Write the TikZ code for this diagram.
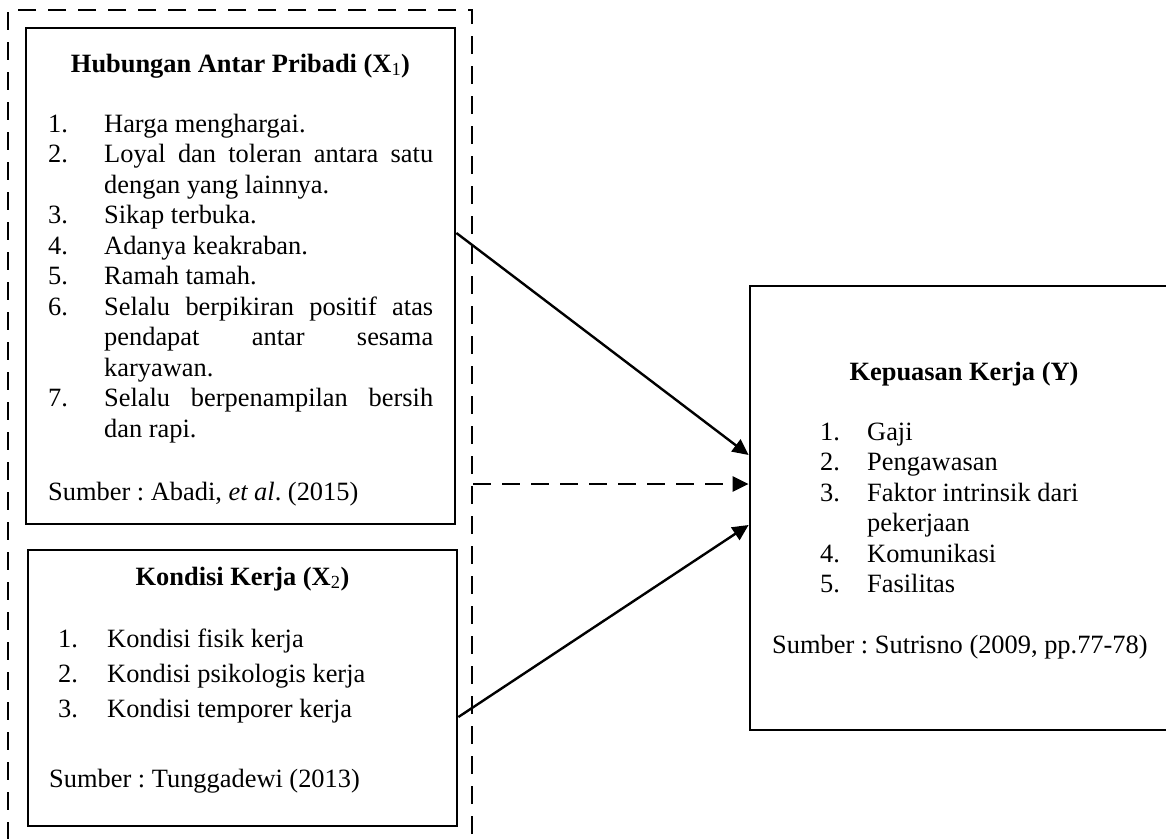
\documentclass[tikz,border=0pt]{standalone}
\usepackage{fontspec}
\setmainfont{Liberation Serif}
\usetikzlibrary{arrows.meta,fit}
\frenchspacing

\tikzset{
    box/.style={draw, line width=2.8pt, inner sep=0pt},
    outerbox/.style={draw, line width=2.4pt, dash pattern=on 18pt off 12pt, inner sep=0pt},
    arr/.style={line width=2.4pt, -{Triangle[length=16pt,width=15pt]}},
    txt/.style={inner sep=0pt, anchor=base west, font=\fontsize{26.4pt}{30.5pt}\selectfont},
}

\begin{document}
\begin{tikzpicture}[x=1pt, y=-1pt]
    \useasboundingbox (0,0) rectangle (1166,838);
    \clip (0,0) rectangle (1166,838);
    % kotak
    \node[outerbox, fit={(8,10) (472,880)}] (xx) {};
    \node[box, fit={(26,28) (455,524)}] (hap) {};
    \node[box, fit={(28,550) (457,826)}] (kk) {};
    \node[box, fit={(750,286) (1190,730)}] (kp) {};

    % X1
    \node[txt, anchor=base] (hapjudul) at (240.5,72) {\textbf{Hubungan Antar Pribadi (X}\textsubscript{1}\textbf{)}};
    \node[txt] (hapisi) at (48,132) {\begin{tabular}[t]{@{}p{56pt}@{}l@{}}
        1. & Harga menghargai.\\
        2. & \makebox[329pt][s]{Loyal dan toleran antara satu}\\
           & dengan yang lainnya.\\
        3. & Sikap terbuka.\\
        4. & Adanya keakraban.\\
        5. & Ramah tamah.\\
        6. & \makebox[329pt][s]{Selalu berpikiran positif atas}\\
           & \makebox[329pt][s]{pendapat antar sesama}\\
           & karyawan.\\
        7. & \makebox[329pt][s]{Selalu berpenampilan bersih}\\
           & dan rapi.
    \end{tabular}};
    \node[txt] (hapsumber) at (48,500) {Sumber : Abadi, \textit{et al}. (2015)};

    % X2
    \node[txt, anchor=base] (kkjudul) at (242.5,585) {\textbf{Kondisi Kerja (X}\textsubscript{2}\textbf{)}};
    \node[txt, font=\fontsize{26.4pt}{35.3pt}\selectfont] (kkisi) at (58,647) {\begin{tabular}[t]{@{}p{49pt}@{}l@{}}
        1. & Kondisi fisik kerja\\
        2. & Kondisi psikologis kerja\\
        3. & Kondisi temporer kerja
    \end{tabular}};
    \node[txt] (kksumber) at (49,787) {Sumber : Tunggadewi (2013)};

    % Y
    \node[txt, anchor=base] (kpjudul) at (964,380) {\textbf{Kepuasan Kerja (Y)}};
    \node[txt] (kpisi) at (820,440) {\begin{tabular}[t]{@{}p{47pt}@{}l@{}}
        1. & Gaji\\
        2. & Pengawasan\\
        3. & Faktor intrinsik dari\\
           & pekerjaan\\
        4. & Komunikasi\\
        5. & Fasilitas
    \end{tabular}};
    \node[txt] (kpsumber) at (772,653) {Sumber : Sutrisno (2009, pp.77-78)};

    % panah
    \coordinate (tengah) at ([yshift=24pt]kp.west);
    \draw[arr] ([yshift=43pt]hap.east) -- ([yshift=53pt]kp.west);
    \draw[arr, dash pattern=on 18pt off 11pt] (xx.east |- tengah) -- (tengah);
    \draw[arr] ([yshift=-29pt]kk.east) -- ([yshift=-17pt]kp.west);
\end{tikzpicture}
\end{document}
